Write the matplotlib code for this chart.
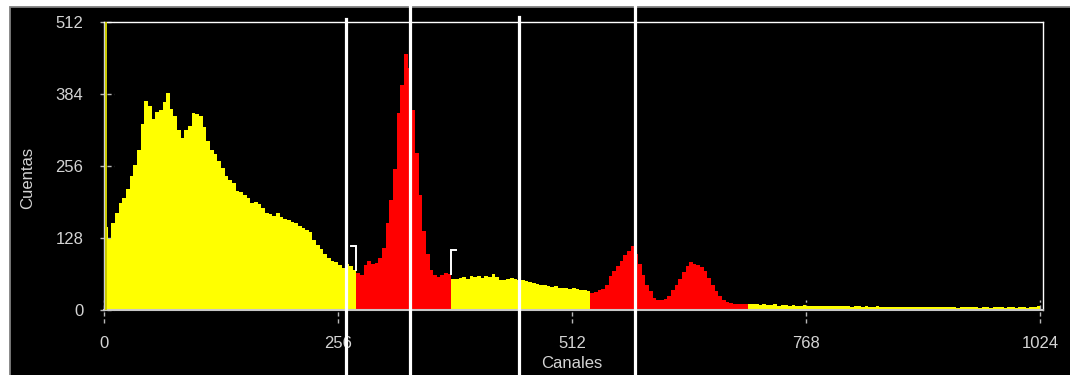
import numpy as np
import matplotlib
matplotlib.use("Agg")
import matplotlib.pyplot as plt
from matplotlib.patches import Rectangle

plt.rcParams['font.family'] = ['Liberation Sans', 'DejaVu Sans']

# Espectro: cuentas por grupo de 4 canales
bin_width = 4
counts = [
    148, 126, 155, 172, 190, 200, 215, 238, 258, 285, 330, 372, 362, 340, 352, 356,
    370, 385, 358, 345, 320, 305, 320, 328, 350, 348, 345, 325, 300, 285, 278, 265,
    252, 238, 232, 225, 212, 210, 205, 200, 190, 192, 188, 182, 172, 170, 168, 172,
    166, 162, 160, 156, 154, 150, 146, 142, 138, 125, 116, 108, 100, 93, 88, 86,
    80, 75, 82, 78, 72, 66, 62, 80, 88, 82, 84, 92, 110, 155, 195, 250,
    350, 400, 455, 430, 355, 280, 205, 140, 100, 72, 62, 58, 62, 66, 64, 55,
    56, 57, 58, 56, 60, 58, 60, 57, 61, 59, 64, 58, 54, 53, 56, 57,
    55, 54, 53, 52, 49, 48, 46, 45, 44, 42, 41, 42, 40, 39, 40, 38,
    39, 37, 36, 35, 33, 30, 32, 36, 38, 45, 60, 70, 78, 88, 97, 105,
    113, 100, 82, 62, 45, 33, 22, 18, 17, 20, 25, 36, 45, 55, 68, 78,
    86, 82, 80, 76, 70, 57, 44, 33, 25, 18, 14, 12, 11, 11, 10, 11,
    11, 10, 10, 9, 10, 9, 9, 10, 8, 9, 9, 8, 9, 8, 8, 9,
    8, 8, 7, 8, 8, 7, 8, 7, 7, 8, 7, 7, 6, 7, 7, 6,
    7, 6, 6, 7, 6, 6, 5, 6, 6, 5, 6, 6, 5, 6, 5, 5,
    6, 5, 5, 6, 5, 5, 6, 5, 5, 4, 5, 5, 6, 5, 5, 4,
    5, 5, 4, 5, 5, 6, 4, 5, 5, 4, 5, 5, 4, 5, 6, 8,
]

# el canal 1 se sale de escala
overflow_channel = 1
overflow_counts = 540

# regiones de interes (en rojo), en canales
roi_starts = [276, 532]
roi_ends = [380, 704]

# cursores verticales, en canales
cursor_channels = [265, 335, 454, 581]

x_ticks = [0, 256, 512, 768, 1024]
y_ticks = [0, 128, 256, 384, 512]

YELLOW = '#ffff00'
RED = '#ff0000'
LABEL = '#d4d4d4'

fig = plt.figure(figsize=(10.7, 3.75), dpi=100)
fig.patch.set_facecolor('white')
fig.patches.append(Rectangle((0.0098, -0.01), 1.0, 0.991, transform=fig.transFigure,
                             facecolor='black', edgecolor='#808080', lw=1.3, zorder=-5))

ax = fig.add_axes([0.0972, 0.1733, 0.8776, 0.768])
ax.set_facecolor('black')

counts = np.array(counts)
edges = np.arange(len(counts) + 1) * bin_width
starts = edges[:-1]
in_roi = np.zeros(len(counts), dtype=bool)
for s, e in zip(roi_starts, roi_ends):
    in_roi |= (starts >= s) & (starts < e)

# dibujar tramos contiguos del mismo color
i = 0
while i < len(counts):
    j = i
    while j < len(counts) and in_roi[j] == in_roi[i]:
        j += 1
    ax.stairs(counts[i:j], edges[i:j + 1], fill=True,
              color=RED if in_roi[i] else YELLOW, lw=0, zorder=2)
    i = j

ax.bar(overflow_channel, overflow_counts, width=1.8, align='edge', color='#c8c800', lw=0, zorder=3)

# marcadores de la ROI seleccionada: "]" al inicio y "[" al final
arm = 5.5
h = 42
b0 = counts[roi_starts[0] // bin_width - 1]
ax.plot([roi_starts[0] - arm, roi_starts[0], roi_starts[0]], [b0 + h, b0 + h, b0],
        color='white', lw=1.4, zorder=4, solid_joinstyle='miter')
b1 = counts[roi_ends[0] // bin_width - 1]
ax.plot([roi_ends[0] + arm, roi_ends[0], roi_ends[0]], [b1 + h, b1 + h, b1],
        color='white', lw=1.4, zorder=4, solid_joinstyle='miter')

ax.set_xlim(0, 1027)
ax.set_ylim(0, 512)
ax.set_xticks(x_ticks)
ax.set_yticks(y_ticks)
ax.tick_params(length=0, labelcolor=LABEL, labelsize=12)
ax.tick_params(axis='y', pad=15)
ax.tick_params(axis='x', pad=19)

# marcas de tick discontinuas
for t in y_ticks:
    ax.plot([-0.004, 0.011], [t, t], transform=ax.get_yaxis_transform(), color='#b8b8b8',
            lw=1, ls=(0, (3, 2)), clip_on=False, zorder=1)
for t in x_ticks:
    ax.plot([t, t], [-0.045, 0.035], transform=ax.get_xaxis_transform(), color='#b8b8b8',
            lw=1, ls=(0, (3, 2)), clip_on=False, zorder=1)

for side in ['top', 'right']:
    ax.spines[side].set_color('white')
    ax.spines[side].set_linewidth(1)
ax.spines['left'].set_color('#d0d0d0')
ax.spines['left'].set_linewidth(1)
ax.spines['bottom'].set_color('#c8c8c8')
ax.spines['bottom'].set_linewidth(1.5)

# cursores
cursor_tops = [1.01, 1.053, 1.017, 1.053]
for c, top in zip(cursor_channels, cursor_tops):
    ax.axvline(c, ymin=-0.3, ymax=top, color='white', lw=2.3, clip_on=False, zorder=5)

fig.text(0.026, 0.525, 'Cuentas', rotation=90, ha='center', va='center', color=LABEL, fontsize=12)
fig.text(0.5345, 0.032, 'Canales', ha='center', va='center', color=LABEL, fontsize=12)

fig.savefig('out.png', dpi=100, facecolor=fig.get_facecolor())
